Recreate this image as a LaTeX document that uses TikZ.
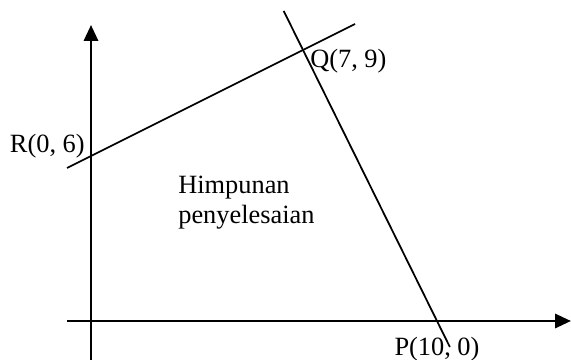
\documentclass[tikz,border=0pt]{standalone}
\usepackage{fontspec}
\setmainfont{Liberation Serif}
\usetikzlibrary{arrows.meta,calc}

\begin{document}
\begin{tikzpicture}[scale=1,
    sumbu/.style={line width=1.5pt, -{Triangle[length=9pt,width=8pt]}},
    garis/.style={line width=1pt},
    teks/.style={inner sep=0pt, font=\fontsize{15}{17}\selectfont}]
    \useasboundingbox (-1.82,-0.78) rectangle (9.6,6.42);

    % axes
    \coordinate (O) at (0,0);
    \coordinate (xs) at (-0.48,0);
    \coordinate (xe) at (9.6,0);
    \coordinate (ys) at (0,-0.78);
    \coordinate (ye) at (0,5.92);
    \draw[sumbu] (xs) -- (xe);
    \draw[sumbu] (ys) -- (ye);

    % corner points
    \coordinate (R) at (0,3.3);
    \coordinate (Q) at (4.24,5.42);
    \coordinate (P) at (6.92,0);

    % boundary lines
    \draw[garis] ($(R)!-0.1132!(Q)$) -- ($(R)!1.2453!(Q)$);
    \draw[garis] ($(P)!-0.096!(Q)$) -- ($(P)!1.1439!(Q)$);

    % labels
    \node[teks, anchor=base east] (lR) at (-0.12,3.36) {R(0, 6)};
    \node[teks, anchor=base west] (lQ) at (4.38,5.06) {Q(7, 9)};
    \node[teks, anchor=base] (lP) at (6.92,-0.7) {P(10, 0)};
    \node[teks, anchor=west, align=left] (hp) at (1.74,2.36) {Himpunan\\penyelesaian};
\end{tikzpicture}
\end{document}
